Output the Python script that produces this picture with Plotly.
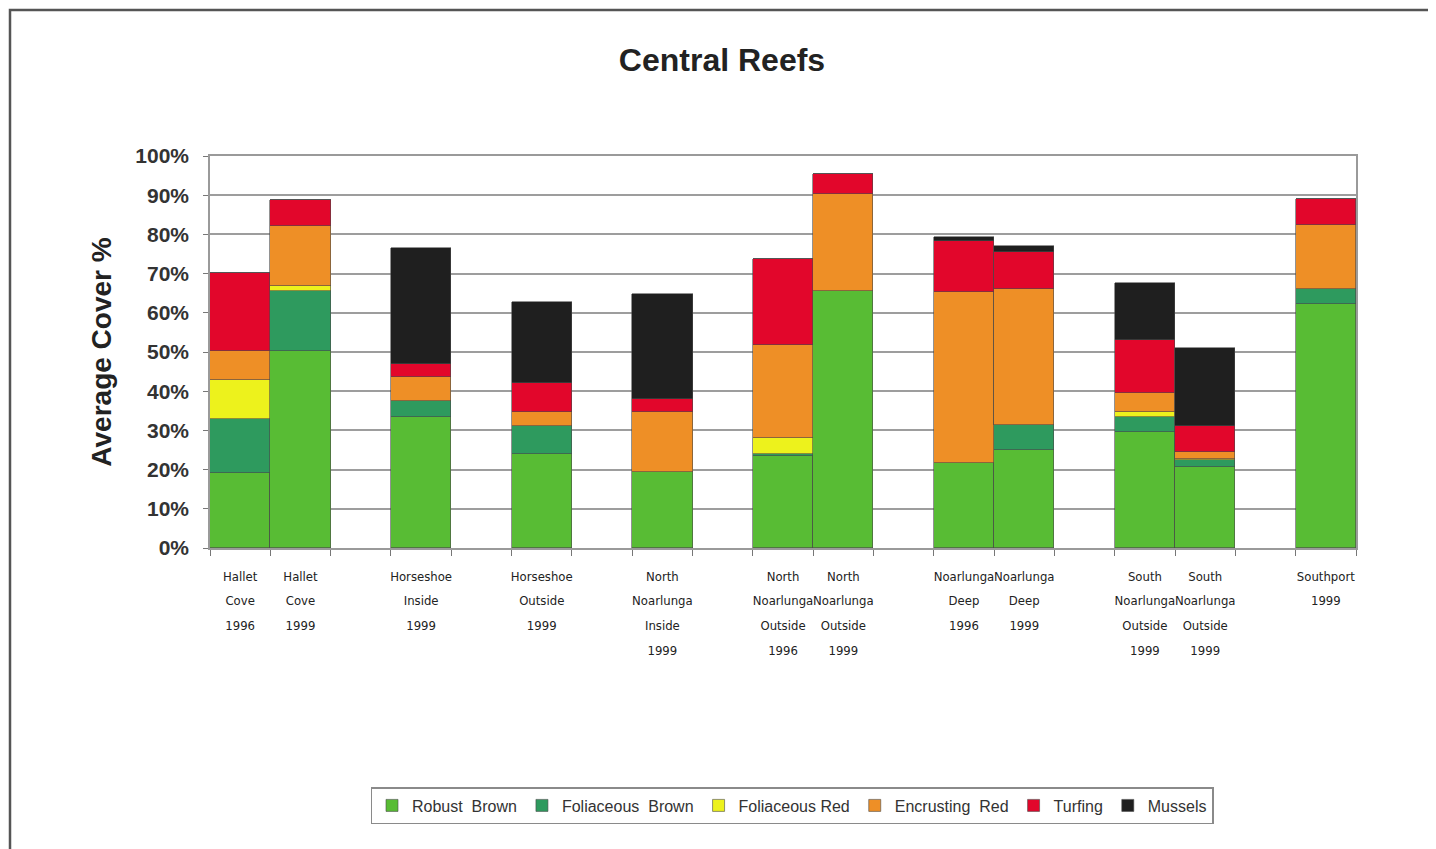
import plotly.graph_objects as go

# ---- data ----
site_groups = [
    ["Hallet<br>Cove<br>1996", "Hallet<br>Cove<br>1999"],
    ["Horseshoe<br>Inside<br>1999"],
    ["Horseshoe<br>Outside<br>1999"],
    ["North<br>Noarlunga<br>Inside<br>1999"],
    ["North<br>Noarlunga<br>Outside<br>1996", "North<br>Noarlunga<br>Outside<br>1999"],
    ["Noarlunga<br>Deep<br>1996", "Noarlunga<br>Deep<br>1999"],
    ["South<br>Noarlunga<br>Outside<br>1999", "South<br>Noarlunga<br>Outside<br>1999"],
    ["Southport<br>1999"],
]

series_names = ["Robust  Brown", "Foliaceous  Brown", "Foliaceous Red",
                "Encrusting  Red", "Turfing", "Mussels"]

robust_brown =     [19.1, 50.3, 33.3, 24.0, 19.3, 23.5, 65.6, 21.6, 25.0, 29.7, 20.6, 62.2]
foliaceous_brown = [13.8, 15.3,  4.3,  7.2,  0.0,  0.5,  0.0,  0.0,  6.4,  3.6,  1.8,  3.8]
foliaceous_red =   [ 9.9,  1.3,  0.0,  0.0,  0.0,  4.0,  0.0,  0.0,  0.0,  1.3,  0.4,  0.0]
encrusting_red =   [ 7.5, 15.3,  5.9,  3.4, 15.5, 23.8, 24.6, 43.6, 34.6,  4.9,  1.8, 16.3]
turfing =          [19.8,  6.5,  3.4,  7.5,  3.2, 21.9,  5.3, 13.1,  9.5, 13.5,  6.6,  6.7]
mussels =          [ 0.0,  0.0, 29.6, 20.7, 26.7,  0.0,  0.0,  1.1,  1.6, 14.7, 19.9,  0.0]

y_ticks = [0, 10, 20, 30, 40, 50, 60, 70, 80, 90, 100]

# ---- styles ----
colors = ["#58BC34", "#2E9A5E", "#EDF21C", "#EE8F26", "#E2062B", "#1F1F1F"]
LABEL_PX = 13

# slot positions: one empty slot between site groups
positions, labels = [], []
slot = 0
for gi, grp in enumerate(site_groups):
    if gi > 0:
        slot += 1
    for lab in grp:
        positions.append(slot)
        labels.append(lab)
        slot += 1
n_slots = slot


def fmt_label(lab):
    return "<br>".join(f'<span style="font-size:{LABEL_PX}px">{p}</span>'
                       for p in lab.split("<br>"))


series_values = [robust_brown, foliaceous_brown, foliaceous_red,
                 encrusting_red, turfing, mussels]

fig = go.Figure()
for name, vals, col in zip(series_names, series_values, colors):
    fig.add_trace(go.Bar(
        x=positions, y=vals, name=name, width=1.0,
        marker=dict(color=col, line=dict(color="#4a4a4a", width=0.6)),
    ))

OFF = 8  # page body margin
W, H = 1436 - OFF, 849 - OFF
L, T = 210 - OFF, 156 - OFF
R = W - (1356 - OFF)
B = H - (548 - OFF)
pw, ph = W - L - R, H - T - B

fig.update_layout(
    width=W, height=H,
    barmode="stack", bargap=0,
    paper_bgcolor="white", plot_bgcolor="white",
    margin=dict(l=L, r=R, t=T, b=B, autoexpand=False),
    title=dict(text="<b>Central Reefs</b>", x=(722 - OFF) / W, xref="container", xanchor="center",
               y=1 - (60 - OFF) / H, yref="container", yanchor="middle",
               font=dict(family="Liberation Sans, Arial, sans-serif", size=32, color="#222222")),
    xaxis=dict(
        range=[-0.5, n_slots - 0.5],
        tickmode="array", tickvals=positions, ticktext=[fmt_label(l) for l in labels],
        tickangle=0, ticklabelstandoff=8,
        ticks="", showgrid=False, zeroline=False,
        showline=True, linecolor="#9a9a9a", linewidth=1.5, mirror=True,
        tickfont=dict(family="DejaVu Sans Condensed, Liberation Sans Narrow, sans-serif",
                      size=19, color="#222222"),
        minor=dict(ticks="outside", tickmode="linear", tick0=-0.5, dtick=1,
                   ticklen=6, tickcolor="#777777", tickwidth=1.2, showgrid=False),
    ),
    yaxis=dict(
        range=[0, 100], tickmode="array", tickvals=y_ticks,
        ticktext=[f"{v}%" for v in y_ticks],
        showgrid=True, gridcolor="#9d9d9d", gridwidth=1.5, zeroline=False,
        showline=True, linecolor="#9a9a9a", linewidth=1.5, mirror=True,
        ticks="outside", ticklen=5, tickcolor="#777777",
        ticklabelstandoff=10,
        tickfont=dict(family="Liberation Sans, Arial, sans-serif", size=21, color="#333333",
                      weight="bold"),
        title=dict(text="<b>Average Cover %</b>", standoff=16,
                   font=dict(family="Liberation Sans, Arial, sans-serif", size=28, color="#222222")),
    ),
    legend=dict(
        orientation="h", x=(792 - 210) / pw, xanchor="center",
        y=(548 - 787) / ph, yanchor="top",
        bordercolor="#8a8a8a", borderwidth=1.5, bgcolor="white",
        font=dict(family="Liberation Sans, Arial, sans-serif", size=16, color="#333333"),
        traceorder="normal", itemwidth=30, entrywidthmode="pixels",
        tracegroupgap=0,
    ),
    showlegend=True,
)

# outer frame (top and left edges visible in reference)
fig.add_shape(type="rect", xref="paper", yref="paper",
              x0=(10 - 210) / pw, x1=(1460 - 210) / pw,
              y0=(548 - 870) / ph, y1=(548 - 10) / ph,
              line=dict(color="#555555", width=2.5), fillcolor="rgba(0,0,0,0)", layer="below")

fig.write_html("out.html")
